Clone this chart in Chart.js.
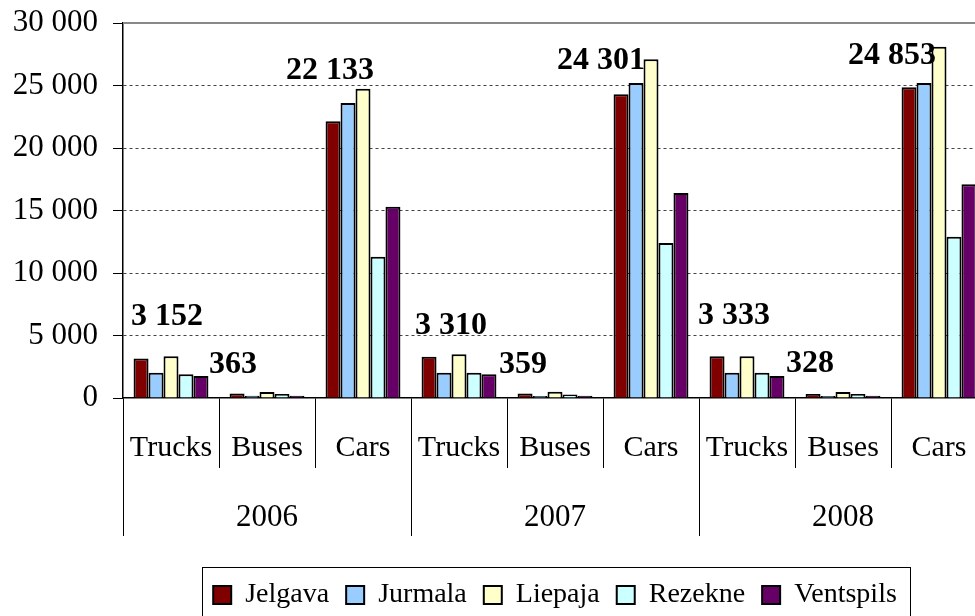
<!DOCTYPE html>
<html>
<head>
<meta charset="utf-8">
<title>Vehicles by city, 2006-2008</title>
<script src="https://cdn.jsdelivr.net/npm/chart.js@4"></script>
<style>
  html, body { margin: 0; padding: 0; background: #fff; overflow: hidden; }
  /* a bit taller than the window: the legend frame runs off the bottom like the original */
  #wrap { width: 987px; height: 640px; }
</style>
</head>
<body>
<div id="wrap"><canvas id="vehChart"></canvas></div>
<script>
const categories = ["Trucks", "Buses", "Cars", "Trucks", "Buses", "Cars", "Trucks", "Buses", "Cars"];
const years = ["2006", "2007", "2008"];

const jelgava   = [3152, 363, 22133, 3310, 359, 24301, 3333, 328, 24853];
const jurmala   = [2020, 180, 23600, 2030, 170, 25200, 2030, 160, 25200];
const liepaja   = [3340, 480, 24750, 3500, 500, 27100, 3340, 480, 28100];
const rezekne   = [1900, 320, 11300, 2030, 290, 12400, 2030, 320, 12900];
const ventspils = [1760, 180, 15300, 1900, 180, 16400, 1760, 180, 17100];

const yMin = 0;
const yMax = 30000;
const yStep = 5000;

// the Jelgava value labels were hand-placed in the original, so nudge each one
// [dx, px above bar top]
const labelNudge = [[26, 42], [-4, 29], [-3, 51], [22, 31], [-2, 29], [-20, 34], [17, 41], [-3, 30], [-17, 32]];

const FONT = "'Liberation Serif', 'Times New Roman', serif";
Chart.defaults.font.family = FONT;
Chart.defaults.color = "#000";

function spaced(n) {
  return String(n).replace(/\B(?=(\d{3})+(?!\d))/g, " ");
}

function series(label, data, color) {
  return { label, data, backgroundColor: color, borderColor: "#000", borderWidth: 2 };
}

/* ===========================
   EXTRA DRAWING
=========================== */

const extras = {
  id: "extras",
  beforeDatasetsDraw(chart) {
    // solid grey frame line along the top of the plot
    const { ctx, chartArea, scales } = chart;
    const y = scales.y.getPixelForValue(yMax);
    ctx.save();
    ctx.strokeStyle = "#888";
    ctx.lineWidth = 2;
    ctx.beginPath();
    ctx.moveTo(chartArea.left, y);
    ctx.lineTo(chartArea.right, y);
    ctx.stroke();
    ctx.restore();
  },
  afterDatasetsDraw(chart) {
    const { ctx } = chart;
    const meta = chart.getDatasetMeta(0);
    ctx.save();
    ctx.font = `bold 32px ${FONT}`;
    ctx.fillStyle = "#000";
    ctx.textAlign = "center";
    ctx.textBaseline = "middle";
    meta.data.forEach((bar, i) => {
      const [dx, up] = labelNudge[i];
      ctx.fillText(spaced(jelgava[i]), bar.x + dx, bar.y - up);
    });
    ctx.restore();
  },
  afterDraw(chart) {
    // box round the legend, like the Excel one
    const { ctx, legend } = chart;
    const boxes = legend.legendHitBoxes;
    if (!boxes || !boxes.length) return;
    const last = boxes[boxes.length - 1];
    const left = Math.round(boxes[0].left - 11);
    const right = Math.round(last.left + last.width + 13);
    const top = Math.round(legend.top + 31);
    ctx.save();
    ctx.strokeStyle = "#000";
    ctx.lineWidth = 1;
    ctx.strokeRect(left + 0.5, top + 0.5, right - left, 80);
    ctx.restore();
  }
};

/* ===========================
   CHART
=========================== */

new Chart(document.getElementById("vehChart"), {
  type: "bar",
  data: {
    labels: categories,
    datasets: [
      series("Jelgava", jelgava, "#800000"),
      series("Jurmala", jurmala, "#99CCFF"),
      series("Liepaja", liepaja, "#FFFFCC"),
      series("Rezekne", rezekne, "#CCFFFF"),
      series("Ventspils", ventspils, "#660066"),
    ],
  },
  options: {
    responsive: true,
    maintainAspectRatio: false,
    animation: false,
    categoryPercentage: 0.78,
    barPercentage: 1.0,
    layout: { padding: { top: 23, bottom: 21, left: 0, right: 0 } },
    scales: {
      x: {
        grid: { offset: true, drawOnChartArea: false, drawTicks: true, tickLength: 70, tickColor: "#000", tickWidth: 1 },
        border: { display: true, color: "#000", width: 1.5 },
        ticks: { font: { size: 30 }, padding: -38, maxRotation: 0, autoSkip: false, color: "#000" },
        afterFit(s) { s.height = 66; }
      },
      x2: {
        type: "category",
        labels: years,
        position: "bottom",
        weight: 1,
        offset: true,
        grid: { offset: true, drawOnChartArea: false, drawTicks: true, tickLength: 72, tickColor: "#000", tickWidth: 1 },
        border: { display: false },
        ticks: { font: { size: 31 }, padding: -37, maxRotation: 0, autoSkip: false, color: "#000" },
        afterFit(s) { s.height = 72; }
      },
      y: {
        min: yMin,
        max: yMax,
        ticks: { stepSize: yStep, font: { size: 31 }, padding: 15, color: "#000", callback: (v) => spaced(v) },
        grid: {
          color: (c) => (c.tick && (c.tick.value === yMin || c.tick.value === yMax)) ? "rgba(0,0,0,0)" : "#444",
          tickColor: "#000",
          tickLength: 10,
          tickBorderDash: []
        },
        border: { display: true, color: "#000", width: 1.5, dash: [3, 3] },
        afterFit(s) {
          s.width = 123;
          s.paddingTop = 0;
          s.paddingBottom = 0;
        }
      }
    },
    plugins: {
      tooltip: { enabled: false },
      legend: {
        position: "bottom",
        fullSize: false,
        title: { display: true, text: " ", padding: 0, font: { size: 20, lineHeight: 1.4 } },
        labels: { boxWidth: 18, boxHeight: 18, padding: 17, color: "#000", font: { size: 28 } }
      }
    }
  },
  plugins: [extras]
});
</script>
</body>
</html>
